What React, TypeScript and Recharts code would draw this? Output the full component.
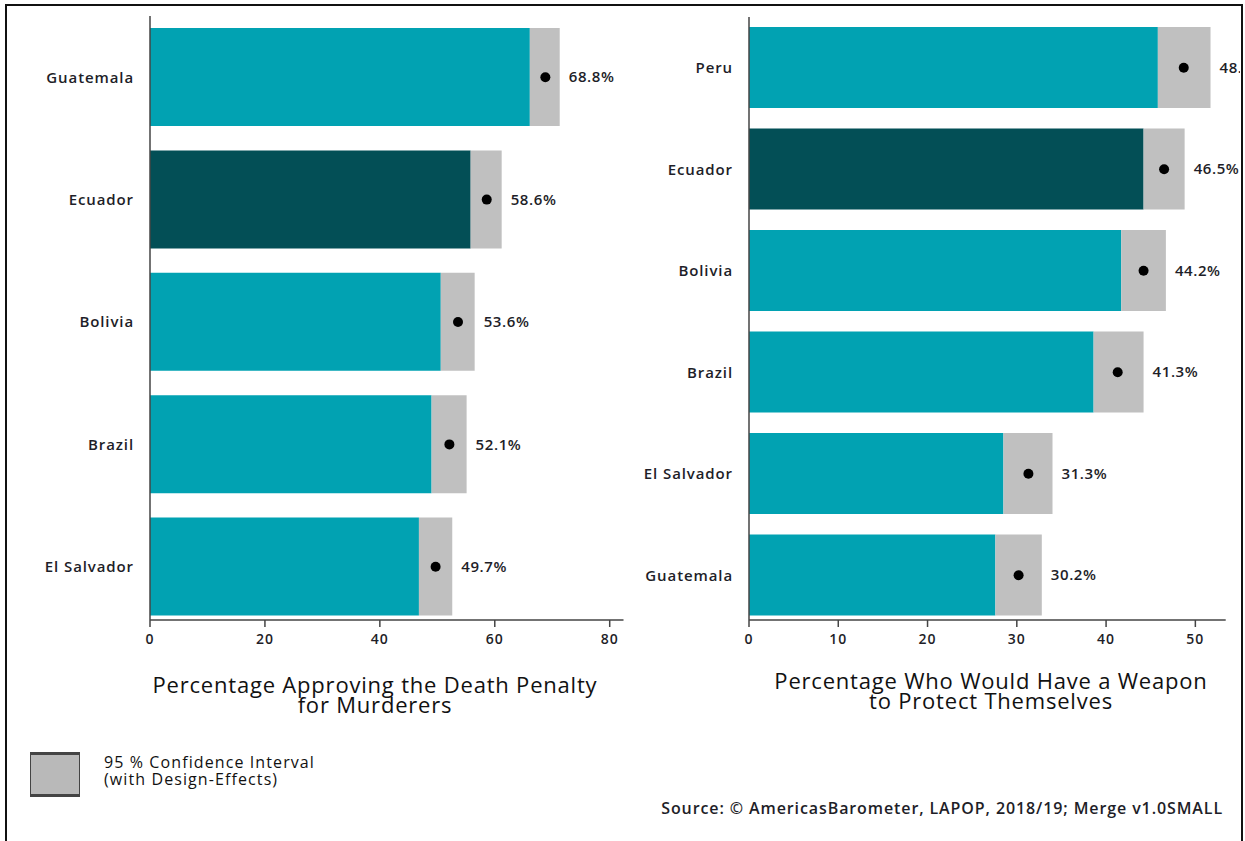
import React from 'react';
import { ComposedChart, Bar, Line, XAxis, YAxis, Cell, LabelList } from 'recharts';

// Left panel: death penalty approval
const deathCountries = ['Guatemala', 'Ecuador', 'Bolivia', 'Brazil', 'El Salvador'];
const deathMean = [68.8, 58.6, 53.6, 52.1, 49.7];
const deathLower = [66.1, 55.8, 50.6, 49.0, 46.8];
const deathUpper = [71.3, 61.2, 56.5, 55.1, 52.6];
const deathTicks = [0, 20, 40, 60, 80];

// Right panel: would have a weapon
const weaponCountries = ['Peru', 'Ecuador', 'Bolivia', 'Brazil', 'El Salvador', 'Guatemala'];
const weaponMean = [48.7, 46.5, 44.2, 41.3, 31.3, 30.2];
const weaponLower = [45.8, 44.2, 41.7, 38.6, 28.5, 27.6];
const weaponUpper = [51.7, 48.8, 46.7, 44.2, 34.0, 32.8];
const weaponTicks = [0, 10, 20, 30, 40, 50];

const HIGHLIGHT = 'Ecuador';
const TEAL = '#01a2b2';
const DARK = '#034f56';
const GREY = '#c0c0c0';
const INK = '#1e1e28';

const buildRows = (countries: string[], mean: number[], lower: number[], upper: number[]) =>
  countries.map((c, i) => ({
    country: c,
    mean: mean[i],
    lower: lower[i],
    span: +(upper[i] - lower[i]).toFixed(2),
  }));

const deathRows = buildRows(deathCountries, deathMean, deathLower, deathUpper);
const weaponRows = buildRows(weaponCountries, weaponMean, weaponLower, weaponUpper);

interface PanelProps {
  rows: ReturnType<typeof buildRows>;
  domainMax: number;
  ticks: number[];
  barSize: number;
  marginTop: number;
  marginRight: number;
  padBottom: number;
  yWidth: number;
}

const Panel: React.FC<PanelProps> = ({ rows, domainMax, ticks, barSize, marginTop, marginRight, padBottom, yWidth }) => (
  <ComposedChart
    layout="vertical"
    width={640}
    height={660}
    data={rows}
    margin={{ top: marginTop, right: marginRight, bottom: 10, left: 0 }}
    barSize={barSize}
  >
    <XAxis
      type="number"
      domain={[0, domainMax]}
      ticks={ticks}
      allowDataOverflow
      height={30}
      tickSize={7}
      tickMargin={7}
      axisLine={{ stroke: '#444', strokeWidth: 1.5 }}
      tickLine={{ stroke: '#444', strokeWidth: 1.5 }}
      tick={{ fill: INK, fontSize: 14, fontWeight: 600, letterSpacing: 1 }}
    />
    <YAxis
      type="category"
      dataKey="country"
      width={yWidth}
      tickLine={false}
      tickSize={0}
      tickMargin={16}
      padding={{ top: 0, bottom: padBottom }}
      axisLine={{ stroke: '#444', strokeWidth: 1.5 }}
      tick={{ fill: INK, fontSize: 15, fontWeight: 600, letterSpacing: 0.9 }}
    />
    <Bar dataKey="lower" stackId="ci" isAnimationActive={false}>
      {rows.map((r) => (
        <Cell key={r.country} fill={r.country === HIGHLIGHT ? DARK : TEAL} />
      ))}
    </Bar>
    <Bar dataKey="span" stackId="ci" fill={GREY} isAnimationActive={false}>
      <LabelList
        dataKey="mean"
        position="right"
        offset={9}
        formatter={(v: any) => `${Number(v).toFixed(1)}%`}
        fill={INK}
        fontSize={15}
        fontWeight={600}
        letterSpacing={0.6}
      />
    </Bar>
    <Line
      dataKey="mean"
      stroke="none"
      dot={{ r: 5, fill: '#000', stroke: 'none' }}
      activeDot={false}
      isAnimationActive={false}
    />
  </ComposedChart>
);

const titleStyle: React.CSSProperties = {
  position: 'absolute',
  fontSize: 22,
  lineHeight: '20px',
  letterSpacing: 0.8,
  color: '#111',
  textAlign: 'center',
  whiteSpace: 'nowrap',
};

export default function App() {
  return (
    <div
      style={{
        position: 'absolute',
        left: 0,
        top: 0,
        width: 1245,
        height: 841,
        background: '#fff',
        fontFamily: '"Open Sans", sans-serif',
        overflow: 'hidden',
      }}
    >
      <div style={{ position: 'absolute', left: 0, top: 0, width: 1241, height: 841, overflow: 'hidden' }}>
        <div style={{ position: 'absolute', left: 0, top: 0 }}>
          <Panel rows={deathRows} domainMax={82.4} ticks={deathTicks} barSize={98}
            marginTop={16} marginRight={16.5} padBottom={-8} yWidth={150} />
        </div>
        <div style={{ position: 'absolute', left: 600, top: 0 }}>
          <Panel rows={weaponRows} domainMax={53.4} ticks={weaponTicks} barSize={81}
            marginTop={17} marginRight={14.3} padBottom={-6} yWidth={149} />
        </div>

        <div style={{ ...titleStyle, left: 125, width: 500, top: 674 }}>
          Percentage Approving the Death Penalty
          <br />
          for Murderers
        </div>
        <div style={{ ...titleStyle, left: 741, width: 500, top: 670 }}>
          Percentage Who Would Have a Weapon
          <br />
          to Protect Themselves
        </div>

        {/* legend */}
        <div
          style={{
            position: 'absolute',
            left: 30,
            top: 752,
            width: 50,
            height: 45,
            boxSizing: 'border-box',
            background: '#b9b9b9',
            borderTop: '3px solid #444',
            borderBottom: '3px solid #444',
            borderLeft: '1.5px solid #444',
            borderRight: '1.5px solid #444',
          }}
        />
        <div
          style={{
            position: 'absolute',
            left: 104,
            top: 754,
            fontSize: 16,
            lineHeight: '17px',
            letterSpacing: 1.1,
            color: '#111',
            whiteSpace: 'nowrap',
          }}
        >
          95 % Confidence Interval
          <br />
          (with Design-Effects)
        </div>

        <div
          style={{
            position: 'absolute',
            right: 18,
            top: 797,
            fontSize: 16,
            fontWeight: 600,
            letterSpacing: 0.9,
            color: INK,
            whiteSpace: 'nowrap',
          }}
        >
          Source: © AmericasBarometer, LAPOP, 2018/19; Merge v1.0SMALL
        </div>
      </div>

      {/* frame */}
      <div style={{ position: 'absolute', left: 5, top: 4, width: 1238, height: 2, background: '#111' }} />
      <div style={{ position: 'absolute', left: 5, top: 4, width: 2, height: 837, background: '#111' }} />
      <div style={{ position: 'absolute', left: 1241, top: 4, width: 2, height: 837, background: '#111' }} />
    </div>
  );
}
